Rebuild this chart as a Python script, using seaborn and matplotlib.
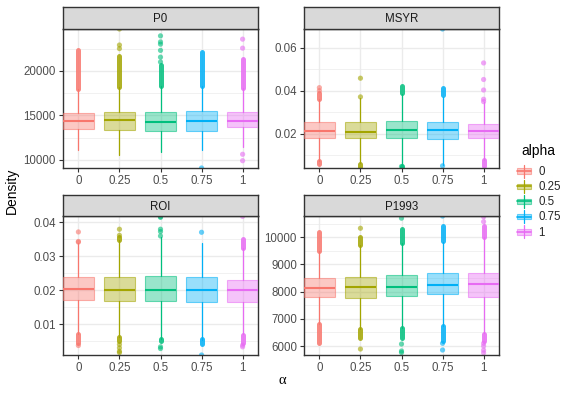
import numpy as np
import pandas as pd
import matplotlib
matplotlib.use("Agg")
import matplotlib.pyplot as plt
import seaborn as sns
from matplotlib.lines import Line2D
from matplotlib.patches import Rectangle
from matplotlib.legend_handler import HandlerBase

# Data
alpha_levels = ["0", "0.25", "0.5", "0.75", "1"]
palette = ["#F8766D", "#A3A500", "#00BF7D", "#00B0F6", "#E76BF3"]

# P0
p0_q1 = [13470, 13400, 13280, 13300, 13650]
p0_med = [14330, 14440, 14260, 14370, 14400]
p0_q3 = [15270, 15340, 15380, 15450, 15380]
p0_lo = [11070, 10600, 10900, 11070, 11500]
p0_hi = [18000, 18200, 18300, 18350, 18100]
p0_dense = [[(18000, 22300)], [(18200, 21700)], [(18300, 20700)], [(18350, 22100)], [(18100, 21300)]]
p0_points = [[], [22500, 22900, 24700], [21000, 21540, 22300, 23000, 23250, 23930], [9100], [9920, 10640, 22550, 23560]]

# MSYR
msyr_q1 = [0.0181, 0.0179, 0.0179, 0.0177, 0.0179]
msyr_med = [0.0214, 0.0209, 0.0217, 0.0215, 0.0212]
msyr_q3 = [0.0253, 0.0256, 0.0261, 0.0254, 0.0245]
msyr_lo = [0.0073, 0.0063, 0.0056, 0.0055, 0.0079]
msyr_hi = [0.0361, 0.0368, 0.0384, 0.0372, 0.0345]
msyr_dense = [[(0.0362, 0.0388), (0.0058, 0.0072)], [(0.0045, 0.0060)], [(0.0390, 0.0422), (0.0045, 0.0050)],
              [(0.0378, 0.0412)], [(0.0048, 0.0076)]]
msyr_points = [[0.0400, 0.0414], [0.0371, 0.0458], [0.0047], [0.0050, 0.0687], [0.0349, 0.0360, 0.0403, 0.0452, 0.0529]]

# ROI
roi_q1 = [0.01717, 0.0169, 0.0168, 0.0165, 0.0166]
roi_med = [0.0204, 0.0200, 0.0200, 0.0200, 0.0200]
roi_q3 = [0.0238, 0.0240, 0.0243, 0.0239, 0.0229]
roi_lo = [0.0071, 0.0062, 0.0055, 0.0054, 0.0071]
roi_hi = [0.0338, 0.0347, 0.0356, 0.0340, 0.0324]
roi_dense = [[(0.0045, 0.0070)], [(0.0348, 0.0356), (0.0050, 0.0062)], [(0.0050, 0.0057)],
             [(0.0042, 0.0055)], [(0.0325, 0.0350), (0.0045, 0.0068)]]
roi_points = [[0.0342, 0.0344, 0.0372, 0.0037], [0.0362, 0.0380, 0.0040, 0.0030, 0.0020, 0.0016],
              [0.0360, 0.0373, 0.0380, 0.0415, 0.0417, 0.0033, 0.0028], [0.0371, 0.0009], [0.0418, 0.0033, 0.0038]]

# P1993
p93_q1 = [7816, 7780, 7830, 7900, 7800]
p93_med = [8147, 8184, 8184, 8246, 8270]
p93_q3 = [8490, 8550, 8614, 8676, 8680]
p93_lo = [6805, 6625, 6654, 6736, 6480]
p93_hi = [9500, 9705, 9790, 9840, 10000]
p93_dense = [[(9500, 10200), (6100, 6800)], [(9700, 10000), (6300, 6620)], [(9800, 10300), (6300, 6650)],
             [(9850, 10400), (6200, 6730)], [(10000, 10400), (6200, 6450)]]
p93_points = [[], [10330, 5890], [10700, 6073, 5816, 5760], [10780, 6100, 5853], [10570, 10750, 6100, 6000, 5850, 5750]]

panels = [
    ("P0", p0_q1, p0_med, p0_q3, p0_lo, p0_hi, p0_dense, p0_points,
     (9100, 24700), [10000, 15000, 20000], [12500, 17500, 22500], "{:.0f}"),
    ("MSYR", msyr_q1, msyr_med, msyr_q3, msyr_lo, msyr_hi, msyr_dense, msyr_points,
     (0.004, 0.0687), [0.02, 0.04, 0.06], [0.01, 0.03, 0.05], "{:.2f}"),
    ("ROI", roi_q1, roi_med, roi_q3, roi_lo, roi_hi, roi_dense, roi_points,
     (0.0009, 0.0419), [0.01, 0.02, 0.03, 0.04], [0.005, 0.015, 0.025, 0.035], "{:.2f}"),
    ("P1993", p93_q1, p93_med, p93_q3, p93_lo, p93_hi, p93_dense, p93_points,
     (5670, 10780), [6000, 7000, 8000, 9000, 10000], [6500, 7500, 8500, 9500, 10500], "{:.0f}"),
]

sns.set_theme(style="white")
plt.rcParams['font.family'] = ['Liberation Sans', 'DejaVu Sans']

W, H = 581, 394
fig = plt.figure(figsize=(W / 100, H / 100), dpi=100)

# panel boxes in pixels: left, top(axes), strip top
lefts = [63, 304, 63, 304]
tops = [29, 29, 216, 216]
strip_tops = [7, 7, 195, 195]
pw, ph = 195, 139

grey30 = "#4D4D4D"
grey20 = "#333333"

for i, (name, q1, med, q3, lo, hi, dense, pts, ylim, major, minor, fmt) in enumerate(panels):
    l, t, st = lefts[i], tops[i], strip_tops[i]
    ax = fig.add_axes([l / W, 1 - (t + ph) / H, pw / W, ph / H])
    sax = fig.add_axes([l / W, 1 - t / H, pw / W, (t - st) / H])

    # strip
    sax.set_facecolor("#D9D9D9")
    sax.set_xticks([]); sax.set_yticks([])
    for s in sax.spines.values():
        s.set_color(grey20); s.set_linewidth(1.0)
    sax.text(0.5, 0.45, name, ha="center", va="center", fontsize=8.3, color="#1A1A1A", transform=sax.transAxes)

    # grid
    ax.set_xlim(-0.375, 4.375)
    ax.set_ylim(*ylim)
    ax.set_xticks(range(5))
    ax.set_xticklabels(alpha_levels)
    ax.set_yticks(major)
    ax.set_yticklabels([fmt.format(v) for v in major])
    ax.set_yticks(minor, minor=True)
    ax.grid(True, which="major", color="#EBEBEB", lw=1.0, zorder=0)
    ax.grid(True, which="minor", axis="y", color="#EBEBEB", lw=0.5, zorder=0)
    ax.set_axisbelow(True)
    ax.tick_params(axis="both", which="major", length=2.9, width=0.8, color=grey20,
                   labelsize=8.3, labelcolor=grey30, pad=2.2, left=True, bottom=True)
    ax.tick_params(axis="y", which="minor", length=0)
    for s in ax.spines.values():
        s.set_color(grey20); s.set_linewidth(1.0)

    # dense outlier columns
    for k in range(5):
        for (a, b) in dense[k]:
            ax.vlines(k, a, b, color=palette[k], lw=3.6, alpha=0.85, capstyle="round", zorder=2)

    # scattered outliers
    df = pd.DataFrame({"pos": [k for k in range(5) for _ in pts[k]],
                       "value": [v for k in range(5) for v in pts[k]],
                       "alpha": [alpha_levels[k] for k in range(5) for _ in pts[k]]})
    if len(df):
        sns.scatterplot(data=df, x="pos", y="value", hue="alpha", hue_order=alpha_levels,
                        palette=palette, s=14, alpha=0.6, linewidth=0, legend=False, ax=ax, zorder=2)

    stats = [dict(q1=q1[k], med=med[k], q3=q3[k], whislo=lo[k], whishi=hi[k], fliers=[]) for k in range(5)]
    bp = ax.bxp(stats, positions=range(5), widths=0.75, patch_artist=True, showfliers=False,
                showcaps=False, manage_ticks=False)
    for k in range(5):
        c = palette[k]
        bp["boxes"][k].set_facecolor(matplotlib.colors.to_rgba(c, 0.4))
        bp["boxes"][k].set_edgecolor(matplotlib.colors.to_rgba(c, 0.55))
        bp["boxes"][k].set_linewidth(0.8)
        bp["boxes"][k].set_zorder(3)
        bp["medians"][k].set_color(c)
        bp["medians"][k].set_linewidth(1.5)
        bp["medians"][k].set_zorder(4)
        for w in bp["whiskers"][2 * k:2 * k + 2]:
            w.set_color(c); w.set_linewidth(0.9); w.set_zorder(2)
    ax.set_xlabel(""); ax.set_ylabel("")


class BoxKey(HandlerBase):
    def create_artists(self, legend, orig_handle, xdescent, ydescent, width, height, fontsize, trans):
        c = orig_handle.get_color()
        x0, y0 = -xdescent, -ydescent
        cx, cy = x0 + width / 2, y0 + height / 2
        bw, bh = width * 0.9, height * 0.45
        w1 = Line2D([cx, cx], [y0, y0 + height], color=c, lw=0.9, transform=trans)
        r = Rectangle((cx - bw / 2, cy - bh / 2), bw, bh, facecolor=matplotlib.colors.to_rgba(c, 0.4),
                      edgecolor=matplotlib.colors.to_rgba(c, 0.55), lw=0.8, transform=trans)
        m = Line2D([cx - bw / 2, cx + bw / 2], [cy, cy], color=c, lw=1.2, transform=trans)
        return [w1, r, m]


handles = [Line2D([], [], color=c) for c in palette]
fig.legend(handles, alpha_levels, handler_map={Line2D: BoxKey()}, loc="upper left",
           bbox_to_anchor=(516 / W, 1 - 165 / H), frameon=False,
           fontsize=8.3, handlelength=1.35, handleheight=1.3,
           labelspacing=0.17, handletextpad=0.6, borderaxespad=0, borderpad=0)
fig.text(521 / W, 1 - 151 / H, "alpha", ha="left", va="center", fontsize=10, color="black")

fig.text(12 / W, 1 - 191 / H, "Density", rotation=90, ha="center", va="center", fontsize=10, color="black")
fig.text(282 / W, 1 - 381 / H, "α", ha="center", va="center", fontsize=10.5, color="black",
         family=["Liberation Serif", "DejaVu Serif"])

fig.savefig("out.png", dpi=100)
